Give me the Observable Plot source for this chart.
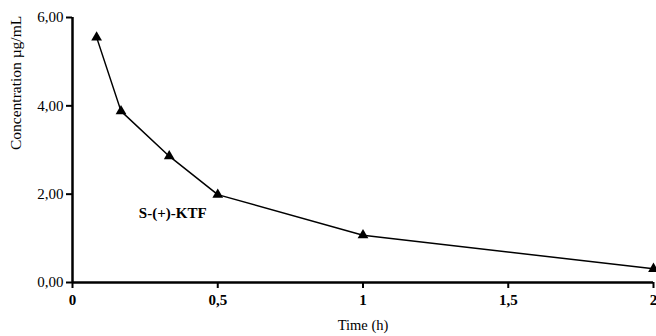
<!DOCTYPE html>
<html>
<head>
<meta charset="utf-8">
<script src="https://cdn.jsdelivr.net/npm/d3@7"></script>
<script src="https://cdn.jsdelivr.net/npm/@observablehq/plot@0.6"></script>
<style>
  html, body { margin: 0; padding: 0; background: #fff; }
  svg { display: block; }
</style>
</head>
<body>
<div id="chart"></div>
<script>
const times = [0.083, 0.167, 0.333, 0.5, 1, 2];
const concentrations = [5.55, 3.88, 2.86, 1.99, 1.07, 0.31];
const xTicks = [0, 0.5, 1, 1.5, 2];
const yTicks = [0, 2, 4, 6];
const seriesLabel = "S-(+)-KTF";
const labelPos = {x: 0.345, y: 1.57};

const data = times.map((t, i) => ({t, c: concentrations[i]}));
const comma = s => String(s).replace(".", ",");
const serif = "'Liberation Serif', 'Times New Roman', Times, serif";

const chart = Plot.plot({
  width: 656,
  height: 336,
  marginLeft: 72,
  marginRight: 3,
  marginTop: 17,
  marginBottom: 54,
  style: {fontFamily: serif, fontSize: "15px", color: "#000", background: "#fff"},
  x: {domain: [0, 2], label: null},
  y: {domain: [0, 6], label: null},
  marks: [
    Plot.axisX({ticks: xTicks, tickFormat: d => comma(d), tickSize: 6, tickPadding: 6, label: null, fontWeight: "bold", fontFamily: serif, fontSize: 15, strokeWidth: 2}),
    Plot.axisY({ticks: yTicks, tickFormat: d => comma(d.toFixed(2)), tickSize: 6, tickPadding: 3, label: null, fontFamily: serif, fontSize: 15, strokeWidth: 2}),
    Plot.ruleX([0], {stroke: "#000", strokeWidth: 2.5}),
    Plot.ruleY([0], {stroke: "#000", strokeWidth: 2.5}),
    Plot.line(data, {x: "t", y: "c", stroke: "#000", strokeWidth: 1.5}),
    Plot.dot(data, {x: "t", y: "c", symbol: "triangle", r: 4, fill: "#000", stroke: "none"}),
    Plot.text([labelPos], {x: "x", y: "y", text: () => seriesLabel, fontWeight: "bold", fontFamily: serif, fontSize: 15, fill: "#000"}),
    Plot.text(["Time (h)"], {frameAnchor: "bottom", dy: 47, text: d => d, fontFamily: serif, fontSize: 14.5, fill: "#000"}),
    Plot.text(["Concentration µg/mL"], {frameAnchor: "left", dx: -56, rotate: -90, text: d => d, fontFamily: serif, fontSize: 15.5, fill: "#000"})
  ]
});
document.getElementById("chart").appendChild(chart);
</script>
</body>
</html>
